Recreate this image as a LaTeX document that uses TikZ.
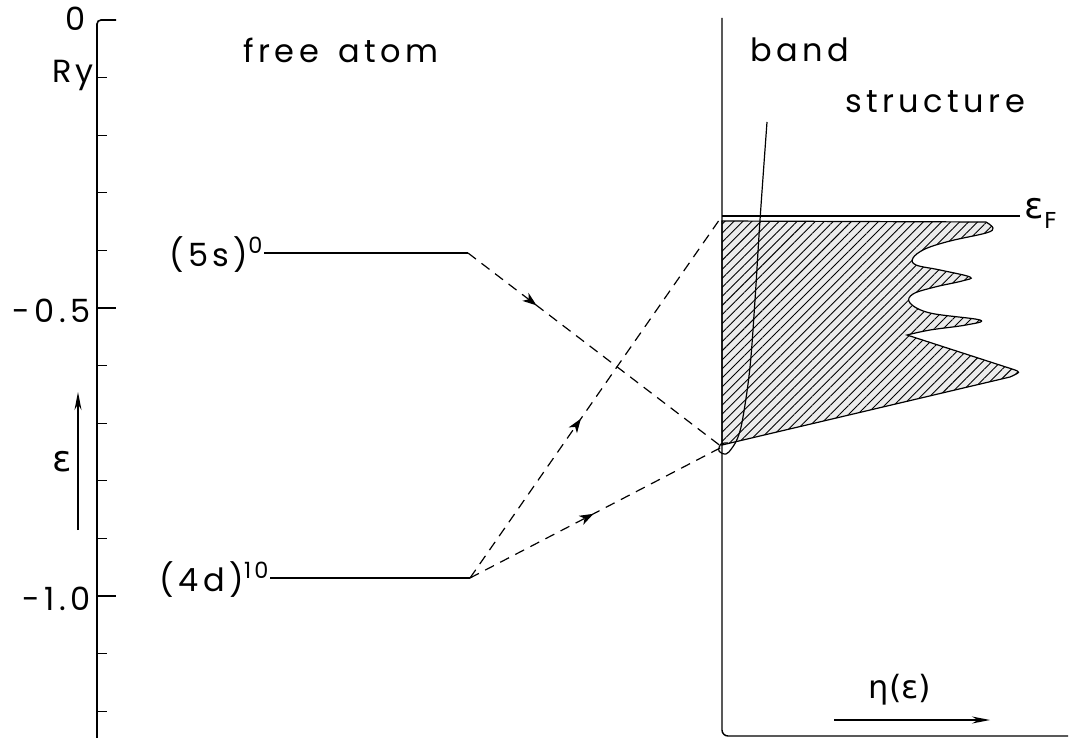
\documentclass[tikz,border=0pt]{standalone}
\usepackage{fontspec}
\setmainfont{Poppins}[LetterSpace=14]
\newfontfamily\greekfont{DejaVu Sans}
\usetikzlibrary{arrows.meta, patterns.meta, decorations.markings}

\tikzset{
  txt/.style={font=\fontsize{16}{18}\selectfont, inner sep=0pt},
  level/.style={line width=0.7pt},
  trans/.style={dash pattern=on 5pt off 3.5pt, line width=0.6pt,
    postaction={decorate},
    decoration={markings, mark=at position #1 with {\arrow[solid]{Stealth[length=7pt,width=5pt,inset=2pt]}}}},
  dos/.style={line width=0.6pt, fill=gray!15,
    postaction={pattern={Lines[angle=45,distance=3.2pt,line width=0.45pt]}}},
}

\begin{document}
\begin{tikzpicture}[x=0.5pt, y=-0.5pt, line width=0.6pt]
\useasboundingbox (0,0) rectangle (1070,738);

% energy axis
\draw[line width=0.8pt, rounded corners=2pt] (116,20) -- (97,20) -- (97,740);
\foreach \k in {1,...,12} {
    \draw (97,20+57.6*\k) -- ++(10,0);
}
\foreach \k in {5,10} {
    \draw (97,20+57.6*\k) -- ++(19,0);
}
\node[txt] (zero) at (76,19) {0};
\node[txt] (ry) at (73,75) {Ry};
\node[txt, anchor=east] (half) at (91,311) {-0.5};
\node[txt, anchor=east] (one) at (91,599) {-1.0};
\node[inner sep=0pt, font=\greekfont\fontsize{18}{18}\selectfont] (eps) at (62,462) {ε};
\coordinate (epsfoot) at (78,530);
\coordinate (epshead) at (78,392);
\draw[-{Stealth[length=9pt,width=3.5pt]}] (epsfoot) -- (epshead);

% headings
\node[txt] (free) at (341,50) {free\hspace{0.6em}atom};
\node[txt] (band) at (800,50) {band};
\node[txt] (struct) at (935,102) {structure};

% atomic levels
\node[txt, anchor=base east] (s5) at (264,266) {(5s)\textsuperscript{0}};
\coordinate (s5end) at (468,253);
\draw[level] (s5.east |- s5end) -- (s5end);
\node[txt, anchor=base east] (d4) at (270,591) {(4d)\textsuperscript{10}};
\coordinate (d4end) at (470,578);
\draw[level] (d4.east |- d4end) -- (d4end);

% occupied band
\draw[dos] (722,221) -- plot[smooth, tension=0.6] coordinates {(986,222) (993,228) (986,233) (950,241) (925,249) (913,258)
    (916,265) (940,270) (970,277) (962,281) (935,287) (913,294) (910,303)
    (930,313) (980,320) (966,325) (930,330) (907,335)}
    -- (1012,369) .. controls (1021,372) .. (1010,377)
    -- (743,440) -- (722,445) -- cycle;

% band frame and Fermi level
\coordinate (bandtop) at (722,216);
\coordinate (bandbot) at (722,447);
\draw[line width=0.7pt, rounded corners=3pt] (722,18) -- (722,736) -- (1068,736);
\coordinate (fermi) at (1020,216);
\draw (bandtop) -- (fermi);
\node[anchor=west, inner sep=0pt] (ef) at (1024,213)
    {\greekfont\fontsize{18}{18}\selectfont ε\raisebox{-0.5ex}{\fontsize{11}{12}\selectfont F}};

% free-electron parabola
\draw plot[smooth, tension=0.6] coordinates {(767,122) (760,220) (755,300) (750,367) (743,417)
    (738,437) (732,448) (726,454) (719,451) (721,444) (728,443)};

% transitions
\draw[trans=0.27] (s5end) -- (bandbot);
\draw[trans=0.44] (d4end) -- (bandtop);
\draw[trans=0.49] (d4end) -- (bandbot);

% DOS axis
\node[inner sep=0pt, font=\greekfont\fontsize{16}{18}\selectfont] (eta) at (900,690) {η(ε)};
\coordinate (etafoot) at (834,720);
\coordinate (etahead) at (990,720);
\draw[-{Stealth[length=9pt,width=3.5pt]}] (etafoot) -- (etahead);
\end{tikzpicture}
\end{document}
